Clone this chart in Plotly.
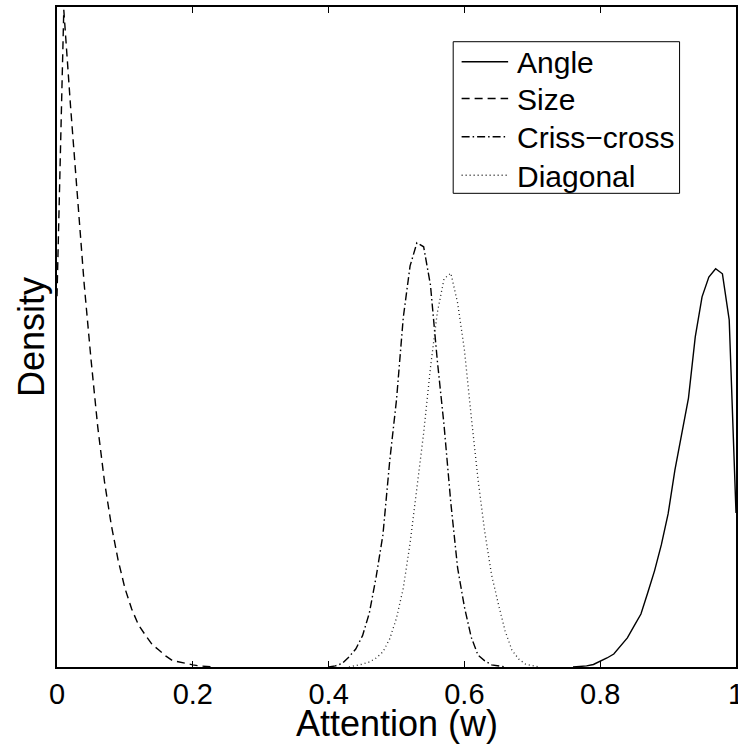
import plotly.graph_objects as go

# Kernel density estimates of attention weight w
angle_x = [0.76, 0.77, 0.78, 0.79, 0.80, 0.81, 0.82, 0.83, 0.84, 0.85, 0.86, 0.87, 0.88,
           0.89, 0.90, 0.91, 0.92, 0.93, 0.94, 0.95, 0.96, 0.97, 0.98, 0.99, 1.00]
angle_y = [0.0, 0.01, 0.03, 0.07, 0.15, 0.25, 0.36, 0.57, 0.81, 1.14, 1.47, 2.06, 2.67,
           3.39, 4.25, 5.47, 6.50, 7.47, 9.17, 10.28, 10.83, 11.06, 10.92, 9.64, 4.28]

size_x = [0.00, 0.01, 0.02, 0.03, 0.04, 0.05, 0.06, 0.07, 0.08, 0.09, 0.10, 0.11,
          0.12, 0.13, 0.14, 0.15, 0.16, 0.17, 0.18, 0.19, 0.20, 0.21, 0.22, 0.23]
size_y = [10.3, 18.25, 15.56, 13.03, 10.64, 8.56, 6.67, 5.14, 3.94, 2.97, 2.19, 1.61,
          1.17, 0.89, 0.63, 0.47, 0.31, 0.18, 0.14, 0.08, 0.06, 0.03, 0.01, 0.0]

criss_x = [0.40, 0.41, 0.42, 0.43, 0.44, 0.45, 0.46, 0.47, 0.48, 0.49, 0.50, 0.51, 0.52,
           0.53, 0.54, 0.55, 0.56, 0.57, 0.58, 0.59, 0.60, 0.61, 0.62, 0.63, 0.64, 0.65, 0.66]
criss_y = [0.0, 0.03, 0.10, 0.28, 0.50, 0.87, 1.50, 2.50, 3.67, 5.72, 7.42, 9.71, 11.14,
           11.78, 11.67, 10.61, 8.53, 6.72, 4.56, 2.75, 1.67, 0.83, 0.33, 0.17, 0.06, 0.03, 0.0]

diag_x = [0.43, 0.44, 0.45, 0.46, 0.47, 0.48, 0.49, 0.50, 0.51, 0.52, 0.53, 0.54, 0.55,
          0.56, 0.57, 0.58, 0.59, 0.60, 0.61, 0.62, 0.63, 0.64, 0.65, 0.66, 0.67, 0.68,
          0.69, 0.70, 0.71]
diag_y = [0.0, 0.03, 0.08, 0.14, 0.25, 0.42, 0.78, 1.36, 2.19, 3.44, 4.89, 6.50, 8.31,
          9.83, 10.78, 10.94, 10.11, 8.81, 6.97, 5.22, 3.75, 2.56, 1.75, 1.00, 0.47, 0.22,
          0.08, 0.03, 0.0]

series_names = ["Angle", "Size", "Criss\u2212cross", "Diagonal"]

x_ticks = [0, 0.2, 0.4, 0.6, 0.8, 1]
x_tick_labels = ["0", "0.2", "0.4", "0.6", "0.8", "1"]

FONT = "Liberation Sans, Arial, Helvetica, sans-serif"

styles = [
    dict(color="black", width=1.4, dash="solid"),
    dict(color="black", width=1.4, dash="8px,5px"),
    dict(color="black", width=1.4, dash="8px,3px,1.5px,3px"),
    dict(color="#222222", width=1.3, dash="1px,3px"),
]
data = [(angle_x, angle_y), (size_x, size_y), (criss_x, criss_y), (diag_x, diag_y)]

fig = go.Figure()
for (xs, ys), name, st in zip(data, series_names, styles):
    fig.add_trace(go.Scatter(x=xs, y=ys, mode="lines", name=name, line=st,
                             showlegend=False))

# Legend box drawn in paper coordinates (MATLAB-style compact legend)
shapes = [dict(type="rect", xref="paper", yref="paper",
               x0=0.5835, x1=0.9169, y0=0.7177, y1=0.9474,
               line=dict(color="black", width=1), fillcolor="white", layer="above")]
annotations = []
row_text_y = [0.9155, 0.8598, 0.8018, 0.7436]
for i, (name, st) in enumerate(zip(series_names, styles)):
    ly = row_text_y[i] + 0.0015
    shapes.append(dict(type="line", xref="paper", yref="paper",
                       x0=0.5959, x1=0.6644, y0=ly, y1=ly, layer="above",
                       line=dict(color=st["color"], width=st["width"], dash=st["dash"])))
    annotations.append(dict(text=name, xref="paper", yref="paper", x=0.6743,
                            y=row_text_y[i], xanchor="left", yanchor="middle",
                            showarrow=False,
                            font=dict(family=FONT, size=30, color="black")))

annotations += [
    dict(text="Attention (w)", xref="paper", yref="paper", x=0.5, y=-0.086,
         xanchor="center", yanchor="middle", showarrow=False,
         font=dict(family=FONT, size=36, color="black")),
    dict(text="Density", xref="paper", yref="paper", x=-0.0384, y=0.5,
         xanchor="center", yanchor="middle", textangle=-90, showarrow=False,
         font=dict(family=FONT, size=36, color="black")),
]

fig.update_layout(
    template="none",
    width=738, height=744,
    margin=dict(l=57, r=2, t=7, b=77, autoexpand=False),
    paper_bgcolor="white", plot_bgcolor="white",
    font=dict(family=FONT, size=28, color="black"),
    showlegend=False,
    shapes=shapes,
    annotations=annotations,
)

fig.update_xaxes(
    range=[0, 1], tickvals=x_ticks, ticktext=x_tick_labels, automargin=False,
    ticks="inside", ticklen=6, tickwidth=1, tickcolor="black",
    showline=True, linecolor="black", linewidth=2, mirror="ticks",
    showgrid=False, zeroline=False, ticklabeloverflow="allow",
    tickfont=dict(family=FONT, size=29, color="black"),
)
fig.update_yaxes(
    range=[0, 18.33], showticklabels=False, ticks="", automargin=False,
    showline=True, linecolor="black", linewidth=2, mirror=True,
    showgrid=False, zeroline=False,
)

fig.write_html("out.html", config={"displayModeBar": False},
               post_script="document.body.style.margin='0px';")
